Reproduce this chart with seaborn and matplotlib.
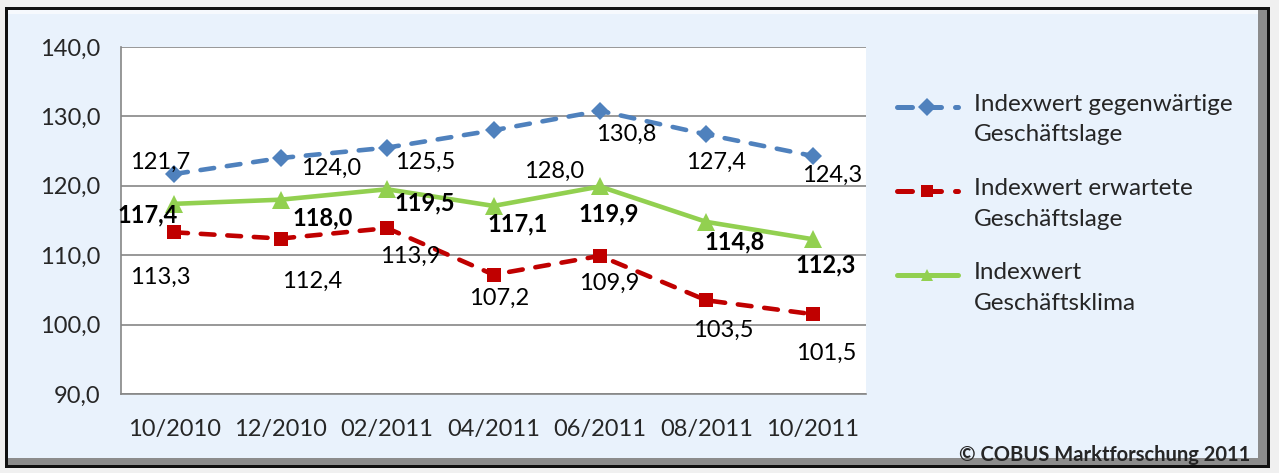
import matplotlib
matplotlib.use("Agg")
import matplotlib.pyplot as plt
import matplotlib.patches as mpatches
import seaborn as sns
import pandas as pd
import numpy as np

# data
monate = ["10/2010", "12/2010", "02/2011", "04/2011", "06/2011", "08/2011", "10/2011"]
gegenwaertig = [121.7, 124.0, 125.5, 128.0, 130.8, 127.4, 124.3]
erwartet = [113.3, 112.4, 113.9, 107.2, 109.9, 103.5, 101.5]
klima = [117.4, 118.0, 119.5, 117.1, 119.9, 114.8, 112.3]
namen = ["Indexwert gegenwärtige\nGeschäftslage",
         "Indexwert erwartete\nGeschäftslage",
         "Indexwert\nGeschäftsklima"]
y_ticks = [90, 100, 110, 120, 130, 140]

# label offsets in pixels (dx, dy) relative to each point
off_blau = [(-14, 12), (50, -10), (38, -15), (61, -41), (26, -23), (10, -28), (19, -19)]
off_rot = [(-14, -45), (31, -43), (23, -28), (6, -24), (9, -27), (17, -30), (13, -39)]
off_gruen = [(-27, -11), (42, -18), (38, -14), (24, -18), (9, -27), (28, -20), (13, -26)]

sns.set_style("white")
plt.rcParams["font.family"] = ["Lato", "DejaVu Sans"]
FS = 17

fig = plt.figure(figsize=(12.79, 4.73), dpi=100)
fig.patch.set_facecolor("#f0f0f0")
W, H = 1279, 473

def rect(x0, y0, x1, y1, **kw):
    fig.patches.append(mpatches.Rectangle((x0 / W, 1 - y1 / H), (x1 - x0) / W, (y1 - y0) / H,
                                          transform=fig.transFigure, zorder=-10, **kw))

# frame with shadow
rect(5, 7, 1270, 468, facecolor="#111111", edgecolor="none")
rect(8, 10, 1267, 465, facecolor="#8c8c8c", edgecolor="none")
rect(8, 10, 1258, 458, facecolor="#e9f2fc", edgecolor="none")
rect(8, 10, 1258, 14, facecolor="#f6f9fd", edgecolor="none")

ax = fig.add_axes([121 / W, 1 - 394 / H, 745 / W, 347 / H])
ax.set_facecolor("white")

df = pd.DataFrame({"Monat": monate * 3,
                   "Wert": gegenwaertig + erwartet + klima,
                   "Serie": [namen[0]] * 7 + [namen[1]] * 7 + [namen[2]] * 7})

palette = {namen[0]: "#4f81bd", namen[1]: "#c00000", namen[2]: "#92d050"}
sns.lineplot(data=df, x="Monat", y="Wert", hue="Serie", style="Serie",
             palette=palette, markers={namen[0]: "D", namen[1]: "s", namen[2]: "^"},
             dashes={namen[0]: (3.0, 2.8), namen[1]: (3.0, 2.8), namen[2]: ""},
             linewidth=3.3, markersize=10, markeredgewidth=0, sort=False, ax=ax,
             legend=True)
for ln in ax.get_lines():
    ln.set_dash_capstyle("round")
    ln.set_solid_capstyle("round")
ax.get_lines()[0].set_markersize(9.5)
ax.get_lines()[2].set_markersize(13)

for serie, offs, bold in [(gegenwaertig, off_blau, False), (erwartet, off_rot, False),
                          (klima, off_gruen, True)]:
    for i, v in enumerate(serie):
        ax.annotate(f"{v:.1f}".replace(".", ","), (i, v), xytext=offs[i],
                    textcoords="offset pixels", ha="center", va="center",
                    fontsize=FS, fontweight="bold" if bold else "normal", color="black")

ax.set_ylim(90, 140)
ax.set_xlim(-0.5, 6.5)
ax.set_yticks(y_ticks)
ax.set_yticklabels([f"{t:.1f}".replace(".", ",") for t in y_ticks], fontsize=FS)
ax.set_xticks([i - 0.5 for i in range(8)])
ax.set_xticklabels([])
ax.set_xticks(range(7), minor=True)
ax.set_xticklabels(monate, minor=True, fontsize=FS)
ax.tick_params(axis="x", which="minor", length=0, pad=18)
ax.tick_params(axis="x", which="major", length=7, color="#868686", width=1.2, direction="out")
ax.tick_params(axis="y", length=7, color="#868686", width=1.2, direction="out", pad=8)
ax.grid(axis="y", color="#868686", linewidth=1.2)
ax.set_axisbelow(True)
ax.set_xlabel("")
ax.set_ylabel("")
for s in ["top", "right"]:
    ax.spines[s].set_visible(False)
for s in ["left", "bottom"]:
    ax.spines[s].set_color("#868686")
    ax.spines[s].set_linewidth(1.2)

handles, labels = ax.get_legend_handles_labels()
ax.get_legend().remove()
leg = fig.legend(handles, labels, loc="upper left", bbox_to_anchor=(897 / W, 1 - 94 / H),
                 frameon=False, fontsize=17.5, handlelength=2.5, handletextpad=0.65,
                 labelspacing=1.35, borderpad=0, borderaxespad=0)
for h in leg.legend_handles:
    h.set_linewidth(3.6)
    h.set_markersize(9)
    # put the handle next to the first line of the label
    h.set_ydata(np.asarray(h.get_ydata(), dtype=float) + 9)
for t in leg.get_texts():
    t.set_linespacing(1.55)

fig.text(1250 / W, 1 - 455 / H, "© COBUS Marktforschung 2011", ha="right", va="center",
         fontsize=14.5, fontweight="bold")

fig.savefig("out.png", dpi=100)
